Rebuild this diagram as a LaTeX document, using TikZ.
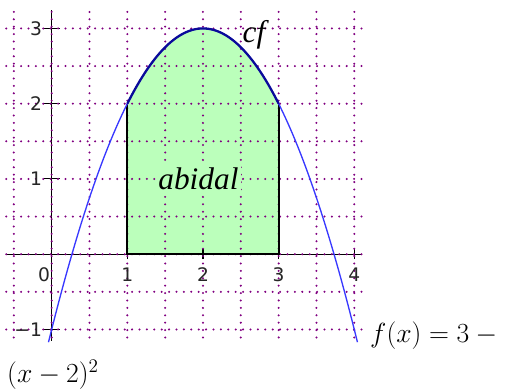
\documentclass[tikz,border=0pt]{standalone}
\usepackage{fontspec}
\newfontfamily\timesf{Liberation Serif}
\newfontfamily\tickf{DejaVu Sans}
\definecolor{gridpurple}{HTML}{800080}
\definecolor{areagreen}{HTML}{BBFFBB}
\definecolor{curveblue}{HTML}{3838FF}
\definecolor{curvenavy}{HTML}{0A0A9A}
\begin{document}
\begin{tikzpicture}[x=56.74pt,y=56.44pt,
  gridline/.style={draw=gridpurple, line width=1.7pt, line cap=round, dash pattern=on 0pt off 5.55pt},
  axisline/.style={draw=black, line width=0.8pt},
  boundline/.style={draw=black, line width=1.5pt},
  ticklbl/.style={font=\tickf\fontsize{14}{14}\selectfont, inner sep=0pt, text=black!85},
  arealbl/.style={font=\timesf\itshape\fontsize{23.5}{24}\selectfont},
  mathlbl/.style={font=\fontsize{22.5}{24}\selectfont, inner sep=0pt}]
\useasboundingbox (-0.683,-1.79) rectangle (6.045,3.378);
% area
\fill[areagreen] (1,0) -- plot[domain=1:3, samples=60] (\x,{3-(\x-2)^2}) -- (3,0) -- cycle;
% axes
\draw[axisline] (-0.6,0) -- (4.1,0);
\draw[axisline] (0,-1.15) -- (0,3.25);
% ticks
\foreach \x in {1,2,3,4} \draw[axisline] (\x,0) ++(0,-3.75pt) -- ++(0,7.5pt);
\foreach \y in {-1,1,2,3} \draw[axisline] (0,\y) ++(-6pt,0) -- ++(12pt,0);
% dotted grid
\foreach \x in {-0.5,0,0.5,...,4} \draw[gridline] (\x,3.22) -- (\x,-1.13);
\foreach \y in {-1,-0.5,...,3} \draw[gridline] (-0.6,\y) -- (4.1,\y);
% boundaries
\draw[boundline] (1,2) -- (1,0) -- (3,0) -- (3,2);
% curve
\draw[curveblue, line width=1pt] plot[domain=-0.042:4.042, samples=120] (\x,{3-(\x-2)^2});
\draw[curvenavy, line width=1.7pt] plot[domain=1:3, samples=80] (\x,{3-(\x-2)^2});
% tick labels
\node[ticklbl, anchor=north east] (lx0) at (-0.02,-0.18) {0};
\foreach \x in {1,2,3,4} \node[ticklbl, anchor=north] (lx\x) at (\x,-0.18) {\x};
\foreach \y/\t in {1/1,2/2,3/3,-1/−1} \node[ticklbl, anchor=east] (ly\y) at (-0.125,\y) {\t};
% labels
\node[arealbl, anchor=base, fill=areagreen, inner sep=2pt] (abidal) at (1.94,0.862) {abidal};
\node[arealbl, anchor=base west, inner sep=0pt] (cf) at (2.52,2.807) {cf};
\node[mathlbl, anchor=base west] (eq1) at (4.207,-1.167) {$f(x) = 3 - {}$};
\node[mathlbl, anchor=base west] (eq2) at (-0.591,-1.711) {$(x-2)^2$};
\end{tikzpicture}
\end{document}
